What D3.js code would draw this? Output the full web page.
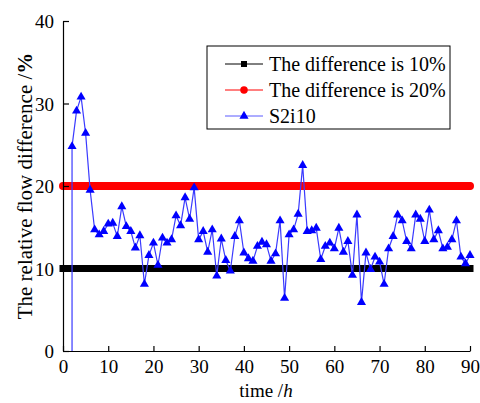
<!DOCTYPE html>
<html>
<head>
<meta charset="utf-8">
<script src="https://cdn.jsdelivr.net/npm/d3@7"></script>
<style>
  body { margin: 0; background: #fff; }
  svg { display: block; font-family: "Liberation Serif", "Times New Roman", serif; }
</style>
</head>
<body>
<script>
// hours 2..90, one reading per hour (first reading starts from 0 at hour 2)
const hours = d3.range(2, 91);
const s2i10 = [
  24.8, 29.1, 30.8, 26.4, 19.5, 14.7, 14.1, 14.5, 15.4,
  15.5, 13.9, 17.5, 15.1, 14.5, 12.5, 14.0, 8.1, 11.6, 13.1,
  10.4, 13.7, 13.1, 13.5, 16.4, 15.2, 18.6, 16.0, 19.8, 13.5,
  14.5, 12.0, 14.7, 9.1, 13.6, 11.0, 9.7, 13.9, 15.8, 11.9,
  11.2, 10.9, 12.7, 13.2, 12.9, 10.9, 11.8, 15.8, 6.4, 14.1,
  14.7, 16.6, 22.5, 14.5, 14.6, 14.9, 11.1, 12.7, 13.1, 12.4,
  14.9, 12.0, 13.3, 9.2, 16.5, 5.9, 11.9, 9.9, 11.4, 10.8,
  8.1, 12.4, 13.9, 16.5, 15.8, 13.3, 12.4, 16.5, 16.0, 13.3,
  17.1, 13.5, 14.6, 12.4, 12.6, 13.5, 15.8, 11.4, 10.6, 11.6
];
const startPoint = { t: 2, v: 0 };

const thresholdNames = ["The difference is 10%", "The difference is 20%"];
const thresholdValues = [10, 20];
const thresholdHours = d3.range(0, 90.01, 0.25);

const xTicks = [0, 10, 20, 30, 40, 50, 60, 70, 80, 90];
const yTicks = [0, 10, 20, 30, 40];

const margin = { top: 21, right: 10, bottom: 52, left: 63 },
      width = 480 - margin.left - margin.right,
      height = 403 - margin.top - margin.bottom;

const x = d3.scaleLinear().domain([0, 90]).range([0, 407]);
const y = d3.scaleLinear().domain([0, 40]).range([330, 0]);

const svg = d3.select("body").append("svg")
    .attr("width", 480)
    .attr("height", 403);

const g = svg.append("g")
    .attr("transform", "translate(" + margin.left + "," + margin.top + ")");

g.append("clipPath").attr("id", "clip")
  .append("rect").attr("x", -8).attr("y", 0).attr("width", 420).attr("height", 330);

const plot = g.append("g").attr("clip-path", "url(#clip)");

// black 10% band (square markers)
plot.append("g")
    .attr("fill", "#000")
  .selectAll("rect")
  .data(thresholdHours)
  .enter().append("rect")
    .attr("x", d => x(d) - 3.5)
    .attr("y", y(thresholdValues[0]) - 3.5)
    .attr("width", 7)
    .attr("height", 7);

// red 20% band (circle markers)
plot.append("g")
    .attr("fill", "#ff0000")
  .selectAll("circle")
  .data(thresholdHours)
  .enter().append("circle")
    .attr("cx", d => x(d))
    .attr("cy", y(thresholdValues[1]))
    .attr("r", 4);

// S2i10 series
const pts = [startPoint].concat(hours.map((h, i) => ({ t: h, v: s2i10[i] })));

plot.append("path")
    .datum(pts)
    .attr("fill", "none")
    .attr("stroke", "#3a3aff")
    .attr("stroke-width", 1.2)
    .attr("d", d3.line().x(d => x(d.t)).y(d => y(d.v)));

const tri = d3.symbol().type(d3.symbolTriangle).size(36);
plot.append("g")
    .attr("fill", "#0000ff")
  .selectAll("path")
  .data(pts.slice(1))
  .enter().append("path")
    .attr("transform", d => `translate(${x(d.t)},${y(d.v)})`)
    .attr("d", tri);

// axes
const xAxis = g.append("g")
    .attr("transform", "translate(0,330)")
    .call(d3.axisBottom(x).tickValues(xTicks).tickSizeInner(-5).tickSizeOuter(0).tickPadding(9));
const yAxis = g.append("g")
    .call(d3.axisLeft(y).tickValues(yTicks).tickSizeInner(-6).tickSizeOuter(0).tickPadding(9));

[xAxis, yAxis].forEach(a => {
  a.selectAll("path, line").attr("stroke", "#000").attr("stroke-width", 1.2);
  a.selectAll("text").attr("font-family", "Liberation Serif, Times New Roman, serif")
    .attr("font-size", 19).attr("fill", "#000");
});
yAxis.selectAll("text").attr("dy", "0.35em");

// axis titles
const xTitle = svg.append("text")
    .attr("x", 266)
    .attr("y", 397)
    .attr("text-anchor", "middle")
    .attr("font-size", 19);
xTitle.append("tspan").text("time /");
xTitle.append("tspan").attr("font-style", "italic").text("h");

const yTitle = svg.append("text")
    .attr("transform", "translate(32,186) rotate(-90)")
    .attr("text-anchor", "middle")
    .attr("font-size", 21);
yTitle.append("tspan").text("The relative flow difference /");
yTitle.append("tspan").attr("font-weight", "bold").text("%");

// legend
const legend = svg.append("g").attr("transform", "translate(207,46)");
legend.append("rect")
    .attr("width", 243)
    .attr("height", 83)
    .attr("fill", "#fff")
    .attr("stroke", "#000")
    .attr("stroke-width", 1);

const legendItems = [
  { name: thresholdNames[0], color: "#000", mark: "square" },
  { name: thresholdNames[1], color: "#ff0000", mark: "circle" },
  { name: "S2i10", color: "#0000ff", mark: "triangle" }
];

const item = legend.selectAll("g.item")
  .data(legendItems)
  .enter().append("g")
    .attr("class", "item")
    .attr("transform", (d, i) => `translate(0,${18 + i * 26})`);

item.append("line")
    .attr("x1", 18).attr("x2", 56)
    .attr("stroke", d => d.color === "#0000ff" ? "#5a5aff" : d.color)
    .attr("stroke-width", 1);

item.append("path")
    .attr("transform", "translate(37,0)")
    .attr("fill", d => d.color)
    .attr("d", d => d.mark === "square" ? d3.symbol().type(d3.symbolSquare).size(36)()
      : d.mark === "circle" ? d3.symbol().type(d3.symbolCircle).size(44)()
      : d3.symbol().type(d3.symbolTriangle).size(36)());

item.append("text")
    .attr("x", 62)
    .attr("dy", "0.35em")
    .attr("font-size", 20)
    .text(d => d.name);
</script>
</body>
</html>
